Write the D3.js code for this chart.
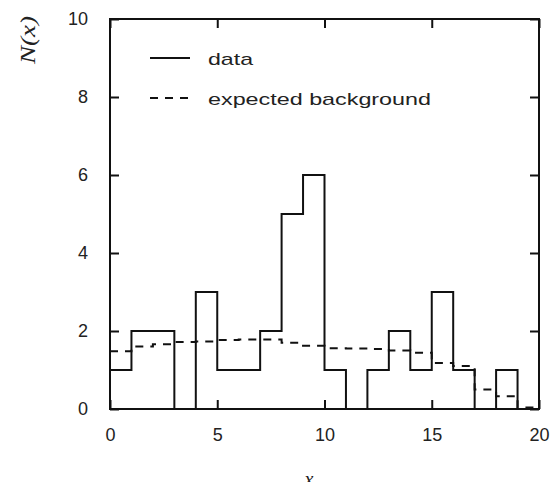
<!DOCTYPE html>
<html>
<head>
<meta charset="utf-8">
<script src="https://cdn.jsdelivr.net/npm/d3@7"></script>
<style>
  body { margin: 0; background: #fff; }
  text { font-family: "Liberation Sans", Arial, sans-serif; fill: #222; }
</style>
</head>
<body>
<div id="vis"></div>
<script>
// bin edges (unit bins from 0 to 20)
let binStarts = d3.range(0, 20);
// observed counts per bin
let dataCounts = [1, 2, 2, 0, 3, 1, 1, 2, 5, 6, 1, 0, 1, 2, 1, 3, 1, 0, 1, 0];
// expected background per bin
let background = [1.48, 1.6, 1.66, 1.72, 1.73, 1.77, 1.78, 1.78, 1.7, 1.62,
  1.56, 1.55, 1.54, 1.5, 1.44, 1.18, 1.1, 0.5, 0.33, 0.04];
let xTicks = [0, 5, 10, 15, 20];
let yTicks = [0, 2, 4, 6, 8, 10];
let legendLabels = ['data', 'expected background'];

let width = 552;
let height = 482;
let margin = { top: 19, left: 110, bottom: 73, right: 13 };
let w = width - margin.left - margin.right;
let h = height - margin.top - margin.bottom;

let svg = d3.select('#vis').append('svg')
  .attr('width', width)
  .attr('height', height);

let g = svg.append('g')
  .attr('transform', 'translate(' + margin.left + ',' + margin.top + ')');

let x = d3.scaleLinear().domain([0, 20]).range([0, w]);
let y = d3.scaleLinear().domain([0, 10]).range([h, 0]);

// step path from bin values
function stepPoints(vals) {
  let pts = [];
  vals.forEach(function (v, i) {
    pts.push([binStarts[i], v]);
    pts.push([binStarts[i] + 1, v]);
  });
  return pts;
}
let line = d3.line().x(d => x(d[0])).y(d => y(d[1]));

// data histogram: outline with drops to zero at empty bins
let histPts = [[0, 0]].concat(stepPoints(dataCounts)).concat([[20, 0]]);
g.append('path')
  .attr('d', line(histPts))
  .attr('fill', 'none')
  .attr('stroke', '#111')
  .attr('stroke-width', 2);

// expected background step line
g.append('path')
  .attr('d', line(stepPoints(background)))
  .attr('fill', 'none')
  .attr('stroke', '#111')
  .attr('stroke-width', 2)
  .attr('stroke-dasharray', '8,7');

// frame
g.append('rect')
  .attr('width', w).attr('height', h)
  .attr('fill', 'none')
  .attr('stroke', '#111')
  .attr('stroke-width', 2);

// axes with inward ticks mirrored on all sides
let tickLen = 9;
g.append('g')
  .attr('transform', 'translate(0,' + h + ')')
  .call(d3.axisBottom(x).tickValues(xTicks).tickSize(-tickLen).tickPadding(19))
  .call(a => a.select('.domain').remove());
g.append('g')
  .call(d3.axisTop(x).tickValues(xTicks).tickSize(-tickLen).tickFormat(''))
  .call(a => a.select('.domain').remove());
g.append('g')
  .call(d3.axisLeft(y).tickValues(yTicks).tickSize(-tickLen).tickPadding(22))
  .call(a => a.select('.domain').remove());
g.append('g')
  .attr('transform', 'translate(' + w + ',0)')
  .call(d3.axisRight(y).tickValues(yTicks).tickSize(-tickLen).tickFormat(''))
  .call(a => a.select('.domain').remove());

g.selectAll('.tick line').attr('stroke', '#111').attr('stroke-width', 2);
g.selectAll('.tick text')
  .attr('font-size', 18)
  .attr('font-family', '"Liberation Sans", Arial, sans-serif')
  .attr('fill', '#222');

// axis titles
svg.append('text')
  .attr('x', 309).attr('y', 486)
  .attr('text-anchor', 'middle')
  .style('font-family', '"Liberation Serif", serif')
  .style('font-style', 'italic')
  .attr('font-size', 20)
  .text('x');

svg.append('text')
  .attr('transform', 'translate(35,40) rotate(-90)')
  .attr('text-anchor', 'middle')
  .style('font-family', '"Liberation Serif", serif')
  .style('font-style', 'italic')
  .attr('font-size', 20)
  .attr('textLength', 48)
  .attr('lengthAdjust', 'spacingAndGlyphs')
  .text('N(x)');

// legend
let legendWidths = [45, 223];
let legend = g.selectAll('.legend')
  .data(legendLabels)
  .enter().append('g')
  .attr('class', 'legend')
  .attr('transform', (d, i) => 'translate(0,' + (39 + i * 40) + ')');
legend.append('line')
  .attr('x1', 40).attr('x2', 80)
  .attr('stroke', '#111')
  .attr('stroke-width', 2)
  .attr('stroke-dasharray', (d, i) => i === 1 ? '8,7' : null);
legend.append('text')
  .attr('x', 98).attr('y', 7)
  .attr('font-size', 17)
  .attr('textLength', (d, i) => legendWidths[i])
  .attr('lengthAdjust', 'spacingAndGlyphs')
  .text(d => d);
</script>
</body>
</html>
